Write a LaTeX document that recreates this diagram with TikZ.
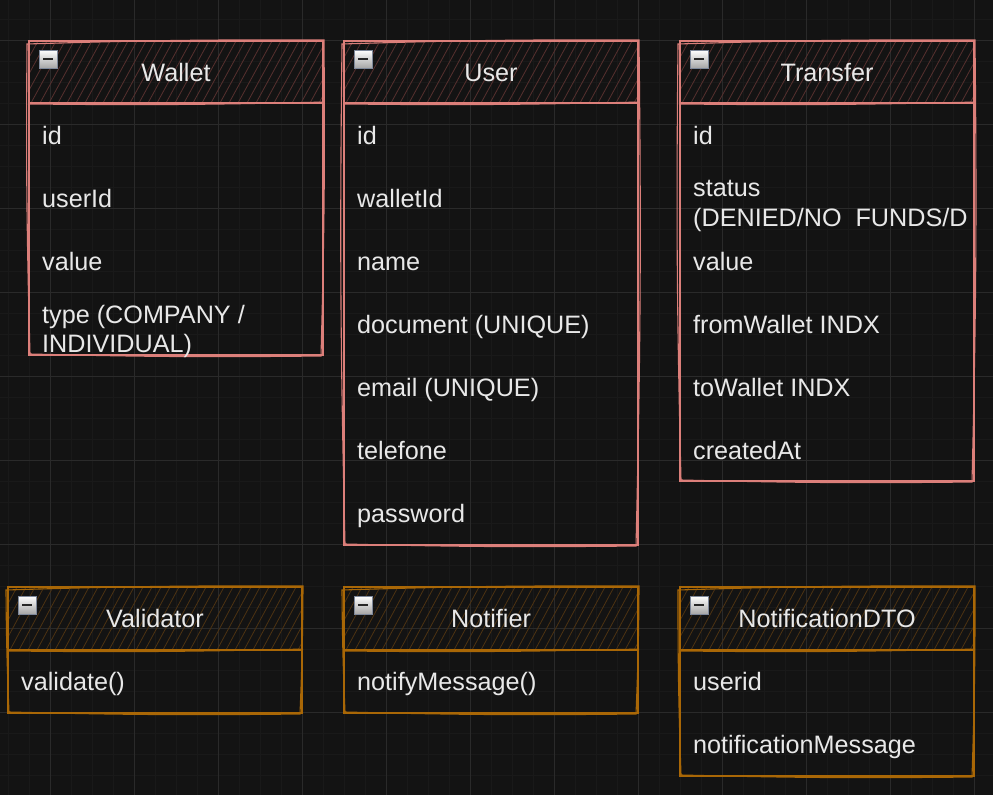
\documentclass[tikz,border=0pt]{standalone}
\usepackage{fontspec}
\setmainfont{Liberation Sans}
\definecolor{bgc}{HTML}{131313}
\definecolor{gridminor}{HTML}{191919}
\definecolor{gridmajor}{HTML}{2A2A2A}
\definecolor{redline}{HTML}{DC7F7A}
\definecolor{redhatch}{HTML}{56302E}
\definecolor{orgline}{HTML}{A96706}
\definecolor{orghatch}{HTML}{4C3212}
\definecolor{txt}{HTML}{E8E8E8}
\definecolor{iconedge}{HTML}{7E889A}
\tikzset{
  fieldtext/.style={anchor=base west, inner sep=0pt, text=txt, font=\fontsize{25.2}{30}\selectfont},
  titletext/.style={anchor=base, inner sep=0pt, text=txt, font=\fontsize{25.2}{30}\selectfont},
}
\newcommand\umlbox[7]{%
  \begin{scope}
    \clip (#1,#2) rectangle (#3,#5);
    \foreach \k in {-2,...,36} {\draw[#7, line width=0.8pt] (#1+\k*9-34,#5) -- (#1+\k*9,#2);}
  \end{scope}
  \draw[#6, line width=1.7pt] (#1,#2) rectangle (#3,#4);
  \draw[#6, line width=1.1pt] (#1-2,#2+3) to[bend left=1] (#3+1,#2-1) to[bend left=1] (#3-2,#4+1) to[bend left=1] (#1+1,#4-1) to[bend left=1] cycle;
  \draw[#6, line width=1.7pt] (#1,#5) -- (#3,#5);
  \draw[#6, line width=1pt] (#1-1,#5+1) to[bend right=1] (#3+1,#5-1);
  \shade[top color=white, bottom color=gray!70, draw=iconedge, line width=1pt] (#1+10,#2+9) rectangle (#1+28,#2+27);
  \draw[black!85, line width=2pt] (#1+14,#2+18) -- (#1+24,#2+18);
}
\begin{document}
\begin{tikzpicture}[x=1pt,y=-1pt]
\fill[bgc] (0,0) rectangle (993,795);
\useasboundingbox (0,0) rectangle (993,795);
\foreach \i in {0,...,48} {\draw[gridminor, line width=0.8pt] (8+\i*21,0) -- (8+\i*21,795);}
\foreach \i in {0,...,38} {\draw[gridminor, line width=0.8pt] (0,19+\i*21) -- (993,19+\i*21);}
\foreach \i in {0,...,11} {\draw[gridmajor, line width=0.9pt] (50+\i*84,0) -- (50+\i*84,795);}
\foreach \i in {0,...,9} {\draw[gridmajor, line width=0.9pt] (0,40+\i*84) -- (993,40+\i*84);}

% Wallet
\umlbox{29}{41}{323}{355}{103}{redline}{redhatch}
\node[titletext] (walletTitle) at (176,81) {Wallet};
\node[fieldtext] (walletId) at (42,144) {id};
\node[fieldtext] (walletUser) at (42,207) {userId};
\node[fieldtext] (walletValue) at (42,270) {value};
\node[fieldtext] (walletTypeA) at (42,323) {type (COMPANY /};
\node[fieldtext] (walletTypeB) at (42,352) {INDIVIDUAL)};

% User
\umlbox{344}{41}{638}{545}{103}{redline}{redhatch}
\node[titletext] (userTitle) at (491,81) {User};
\node[fieldtext] (userId) at (357,144) {id};
\node[fieldtext] (userWallet) at (357,207) {walletId};
\node[fieldtext] (userName) at (357,270) {name};
\node[fieldtext] (userDoc) at (357,333) {document (UNIQUE)};
\node[fieldtext] (userEmail) at (357,396) {email (UNIQUE)};
\node[fieldtext] (userTel) at (357,459) {telefone};
\node[fieldtext] (userPass) at (357,522) {password};

% Transfer
\umlbox{680}{41}{974}{481}{103}{redline}{redhatch}
\node[titletext] (transferTitle) at (827,81) {Transfer};
\node[fieldtext] (transferId) at (693,144) {id};
\node[fieldtext] (transferStatusA) at (693,196) {status};
\node[fieldtext] (transferStatusB) at (693,226) {(DENIED/NO\ \ FUNDS/D};
\node[fieldtext] (transferValue) at (693,270) {value};
\node[fieldtext] (transferFrom) at (693,333) {fromWallet INDX};
\node[fieldtext] (transferTo) at (693,396) {toWallet INDX};
\node[fieldtext] (transferCreated) at (693,459) {createdAt};

% Validator
\umlbox{8}{587}{302}{713}{650}{orgline}{orghatch}
\node[titletext] (validatorTitle) at (155,627) {Validator};
\node[fieldtext] (validatorMethod) at (21,690) {validate()};

% Notifier
\umlbox{344}{587}{638}{713}{650}{orgline}{orghatch}
\node[titletext] (notifierTitle) at (491,627) {Notifier};
\node[fieldtext] (notifierMethod) at (357,690) {notifyMessage()};

% NotificationDTO
\umlbox{680}{587}{974}{776}{650}{orgline}{orghatch}
\node[titletext] (dtoTitle) at (827,627) {NotificationDTO};
\node[fieldtext] (dtoUser) at (693,690) {userid};
\node[fieldtext] (dtoMsg) at (693,753) {notificationMessage};
\end{tikzpicture}
\end{document}
